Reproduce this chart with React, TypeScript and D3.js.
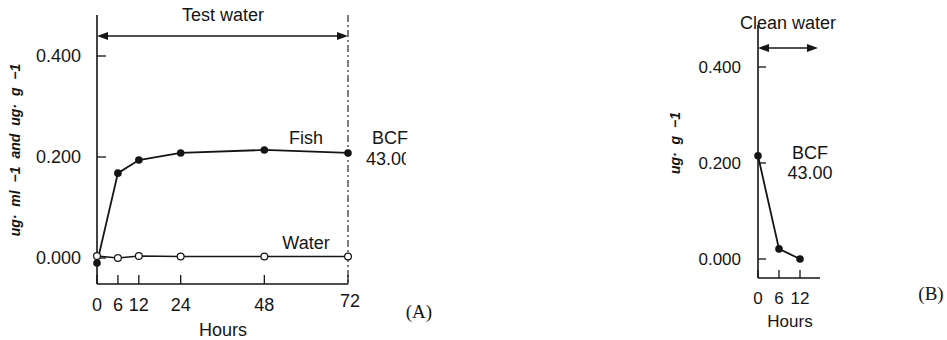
import React from "react";
import * as d3 from "d3";

// Panel A: uptake in test water
const hoursA = [0, 6, 12, 24, 48, 72];
const fishA = [-0.01, 0.168, 0.194, 0.208, 0.214, 0.208];
const waterA = [0.004, 0.0, 0.004, 0.003, 0.003, 0.003];
const xTicksA = [0, 6, 12, 24, 48, 72];
// Panel B: depuration in clean water
const hoursB = [0, 6, 12];
const fishB = [0.215, 0.021, 0.0];
const xTicksB = [0, 6, 12];
const yTicks = [0, 0.2, 0.4];
const yTickLabels = ["0.000", "0.200", "0.400"];
const bcfValue = "43.00";

const FONT = "'Liberation Sans', Arial, Helvetica, sans-serif";
const INK = "#151515";
const FS = 18;

export default function App() {
  const xA = d3.scaleLinear().domain([0, 72]).range([97, 348]);
  const yA = d3.scaleLinear().domain([0, 0.4]).range([258, 56]);
  const xB = d3.scaleLinear().domain([0, 12]).range([758, 800]);
  const yB = d3.scaleLinear().domain([0, 0.4]).range([259, 67]);

  const lineA = d3
    .line<number>()
    .x((_, i) => xA(hoursA[i]))
    .y((d) => yA(d));
  const lineB = d3
    .line<number>()
    .x((_, i) => xB(hoursB[i]))
    .y((d) => yB(d));

  const axisBottomA = 284;
  const axisTopA = 15;
  const axisBottomB = 278;
  const axisTopB = 25;
  const xEndB = 820;

  const arrowHead = (x: number, y: number, dir: number) => {
    const L = 11;
    const W = 4;
    return (
      <path
        d={`M${x},${y} L${x - dir * L},${y - W} L${x - dir * L},${y + W} Z`}
        fill={INK}
      />
    );
  };

  return (
    <svg
      width={947}
      height={340}
      style={{ position: "absolute", left: 0, top: 0, background: "#fff" }}
      fontFamily={FONT}
    >
      <defs>
        <clipPath id="clipBCF">
          <rect x={340} y={0} width={66} height={340} />
        </clipPath>
      </defs>

      {/* ---------------- Panel A ---------------- */}
      <line x1={xA(0)} y1={axisTopA} x2={xA(0)} y2={axisBottomA} stroke={INK} strokeWidth={1.6} />
      <line x1={xA(0)} y1={axisBottomA} x2={xA(72)} y2={axisBottomA} stroke={INK} strokeWidth={1.6} />
      {yTicks.map((t, i) => (
        <g key={"ya" + i}>
          <line x1={xA(0)} x2={xA(0) + 9} y1={yA(t)} y2={yA(t)} stroke={INK} strokeWidth={1.3} />
          <text x={81} y={yA(t)} dy="0.36em" textAnchor="end" fontSize={FS} fill={INK}>
            {yTickLabels[i]}
          </text>
        </g>
      ))}
      {xTicksA.map((t) => (
        <g key={"xa" + t}>
          <line x1={xA(t)} x2={xA(t)} y1={axisBottomA} y2={axisBottomA - 9} stroke={INK} strokeWidth={1.3} />
          <text
            x={xA(t) + (t === 72 ? 2 : 0)}
            y={t === 72 ? 301 : 305}
            dy="0.36em"
            textAnchor="middle"
            fontSize={FS}
            fill={INK}
          >
            {t}
          </text>
        </g>
      ))}
      <text x={223} y={330} dy="0.36em" textAnchor="middle" fontSize={FS} fill={INK}>
        Hours
      </text>
      <text
        transform="translate(15,150) rotate(-90)"
        textAnchor="middle"
        dy="0.36em"
        fontSize={14}
        fontStyle="italic"
        fontWeight="bold"
        fill={INK}
        style={{ wordSpacing: "4px" }}
      >
        ug· ml −1 and ug· g −1
      </text>

      <line
        x1={xA(72)}
        x2={xA(72)}
        y1={axisTopA}
        y2={axisBottomA}
        stroke={INK}
        strokeWidth={1.1}
        strokeDasharray="7,3,2,3"
      />
      <line x1={xA(0) + 8} x2={xA(72) - 8} y1={36} y2={36} stroke={INK} strokeWidth={1.5} />
      {arrowHead(xA(0), 36, -1)}
      {arrowHead(xA(72), 36, 1)}
      <text x={223} y={15} dy="0.36em" textAnchor="middle" fontSize={FS} fill={INK}>
        Test water
      </text>

      <path d={lineA(waterA) || ""} fill="none" stroke={INK} strokeWidth={1.5} />
      <path d={lineA(fishA) || ""} fill="none" stroke={INK} strokeWidth={1.8} />
      {waterA.map((v, i) => (
        <circle key={"wa" + i} cx={xA(hoursA[i])} cy={yA(v)} r={3.4} fill="#fff" stroke={INK} strokeWidth={1.2} />
      ))}
      {fishA.map((v, i) => (
        <circle key={"fa" + i} cx={xA(hoursA[i])} cy={yA(v)} r={3.8} fill={INK} />
      ))}
      <text x={306} y={138} dy="0.36em" textAnchor="middle" fontSize={FS} fill={INK}>
        Fish
      </text>
      <text x={306} y={243} dy="0.36em" textAnchor="middle" fontSize={FS} fill={INK}>
        Water
      </text>
      <text x={390} y={138} dy="0.36em" textAnchor="middle" fontSize={FS} fill={INK}>
        BCF
      </text>
      <text x={366} y={159} dy="0.36em" textAnchor="start" fontSize={FS} fill={INK} clipPath="url(#clipBCF)">
        {bcfValue}
      </text>
      <text x={419} y={311} dy="0.36em" textAnchor="middle" fontSize={19} fontFamily="'Liberation Serif', 'Times New Roman', serif" fill={INK}>
        (A)
      </text>

      {/* ---------------- Panel B ---------------- */}
      <line x1={xB(0)} y1={axisTopB} x2={xB(0)} y2={axisBottomB} stroke={INK} strokeWidth={1.6} />
      <line x1={xB(0)} y1={axisBottomB} x2={xEndB} y2={axisBottomB} stroke={INK} strokeWidth={1.6} />
      {yTicks.map((t, i) => (
        <g key={"yb" + i}>
          <line x1={xB(0)} x2={xB(0) + 8} y1={yB(t)} y2={yB(t)} stroke={INK} strokeWidth={1.3} />
          <text x={741} y={yB(t)} dy="0.36em" textAnchor="end" fontSize={17} fill={INK}>
            {yTickLabels[i]}
          </text>
        </g>
      ))}
      {xTicksB.map((t) => (
        <g key={"xb" + t}>
          <line x1={xB(t)} x2={xB(t)} y1={axisBottomB} y2={axisBottomB - 8} stroke={INK} strokeWidth={1.3} />
          <text x={xB(t)} y={298} dy="0.36em" textAnchor="middle" fontSize={17} fill={INK}>
            {t}
          </text>
        </g>
      ))}
      <text x={790} y={321} dy="0.36em" textAnchor="middle" fontSize={17} fill={INK}>
        Hours
      </text>
      <text
        transform="translate(675,143) rotate(-90)"
        textAnchor="middle"
        dy="0.36em"
        fontSize={14}
        fontStyle="italic"
        fontWeight="bold"
        fill={INK}
        style={{ wordSpacing: "4px" }}
      >
        ug· g −1
      </text>
      <line x1={xB(0) + 8} x2={818 - 8} y1={48} y2={48} stroke={INK} strokeWidth={1.5} />
      {arrowHead(xB(0), 48, -1)}
      {arrowHead(818, 48, 1)}
      <text x={788} y={23} dy="0.36em" textAnchor="middle" fontSize={FS} fill={INK}>
        Clean water
      </text>

      <path d={lineB(fishB) || ""} fill="none" stroke={INK} strokeWidth={1.8} />
      {fishB.map((v, i) => (
        <circle key={"fb" + i} cx={xB(hoursB[i])} cy={yB(v)} r={3.8} fill={INK} />
      ))}
      <text x={810} y={153} dy="0.36em" textAnchor="middle" fontSize={FS} fill={INK}>
        BCF
      </text>
      <text x={810} y={173} dy="0.36em" textAnchor="middle" fontSize={FS} fill={INK}>
        {bcfValue}
      </text>
      <text x={931} y={293} dy="0.36em" textAnchor="middle" fontSize={19} fontFamily="'Liberation Serif', 'Times New Roman', serif" fill={INK}>
        (B)
      </text>
    </svg>
  );
}
